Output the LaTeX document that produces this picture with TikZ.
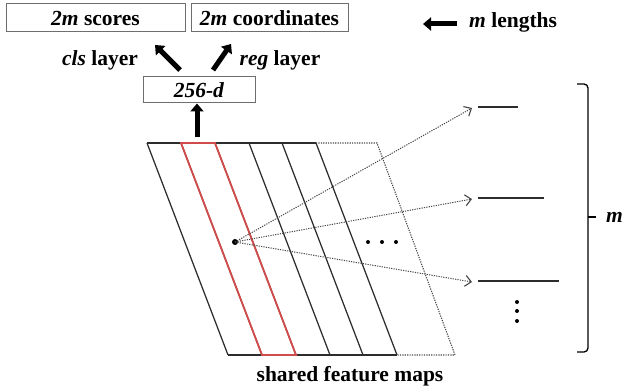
\documentclass[tikz,border=0pt]{standalone}
\usepackage{fontspec}
\setmainfont{Liberation Serif}
\usetikzlibrary{arrows.meta}
\definecolor{boxgray}{RGB}{110,110,110}
\definecolor{mapgray}{RGB}{45,45,45}
\definecolor{raygray}{RGB}{70,70,70}
\definecolor{mapred}{RGB}{210,75,75}
\begin{document}
\begin{tikzpicture}[x=1pt,y=-1pt,
  lbl/.style={font=\fontsize{21.5}{25}\selectfont\bfseries, inner sep=0pt},
  box/.style={draw=boxgray, line width=1pt, inner sep=0pt, lbl},
  fat/.style={line width=5pt, -{Triangle[length=8pt,width=13pt]}},
  mapline/.style={draw=mapgray, line width=1.25pt},
  mapdots/.style={draw=raygray, line width=1.1pt, dash pattern=on 1.2pt off 1.2pt},
  ray/.style={draw=raygray, line width=1pt, dash pattern=on 1.2pt off 1.2pt,
    -{Straight Barb[length=6pt,width=11pt,line width=1.1pt]}},
  len/.style={draw=mapgray, line width=1.8pt},
  dotmark/.style={circle, fill=black, inner sep=0pt, minimum size=6pt}]
\useasboundingbox (0,0) rectangle (623,390);

% output boxes and the intermediate feature
\node[box, minimum width=179pt, minimum height=28pt] (scores) at (95.5,18) {\textit{2m} scores};
\node[box, minimum width=157pt, minimum height=28pt] (coords) at (269.5,18) {\textit{2m} coordinates};
\node[box, minimum width=112pt, minimum height=26pt] (feat) at (199,90) {\textit{256-d}};

\node[lbl] (clslbl) at (100,60) {\textit{cls} layer};
\node[lbl] (reglbl) at (280,60) {\textit{reg} layer};

% legend
\coordinate (legA) at (457,24);
\coordinate (legB) at (423,24);
\draw[fat] (legA) -- (legB);
\node[lbl, anchor=west] (leglbl) at (469,22) {\textit{m} lengths};

% shared feature maps (slanted slices)
\foreach \i/\x in {0/147,1/181,2/215,3/249,4/282,5/316}{
  \coordinate (top\i) at (\x,143);
  \coordinate (bot\i) at (\x+81,355);
  \draw[mapline] (top\i) -- (bot\i);
}
\draw[mapline] (top0) -- (top5);
\draw[mapline] (bot0) -- (bot5);
\coordinate (topR) at (377,143);
\coordinate (botR) at (455,355);
\draw[mapdots] (top5) -- (topR) -- (botR) -- (bot5);
\draw[draw=mapred, line width=1.8pt, line join=miter] (top1) -- (top2) -- (bot2) -- (bot1) -- cycle;

\node[lbl, anchor=base] (maplbl) at (350,381) {shared feature maps};

% arrows between layers
\coordinate (upS) at (197,137);
\draw[fat] (upS) -- (feat.south -| upS);
\coordinate (clsS) at (180,70);
\coordinate (clsE) at (155,45);
\draw[fat] (clsS) -- (clsE);
\coordinate (regS) at (213,70);
\coordinate (regE) at (231,44);
\draw[fat] (regS) -- (regE);

% sliding-window position and its m lengths
\node[dotmark] (px) at (235,242) {};
\foreach \k/\y/\e in {1/107/518,2/198/544,3/281/559}{
  \coordinate (tip\k) at (472,\y+1);
  \coordinate (la\k) at (478,\y);
  \coordinate (lb\k) at (\e,\y);
  \draw[ray] (px.center) -- (tip\k);
  \draw[len] (la\k) -- (lb\k);
}
\foreach \x in {368,382,396}{ \fill (\x,242) circle (2pt); }
\foreach \y in {302,311,321}{ \fill (517,\y) circle (2pt); }

% bracket spanning the m lengths
\coordinate (brT) at (577,84);
\coordinate (brM) at (588,217);
\coordinate (brB) at (577,352);
\draw[line width=1.3pt, rounded corners=4pt] (brT) -- (brT -| brM) -- (brM) -- (brB -| brM) -- (brB);
\draw[line width=1.3pt] (brM) -- ++(8,0);
\node[lbl, anchor=west] (mlbl) at (606,217) {\textit{m}};
\end{tikzpicture}
\end{document}
